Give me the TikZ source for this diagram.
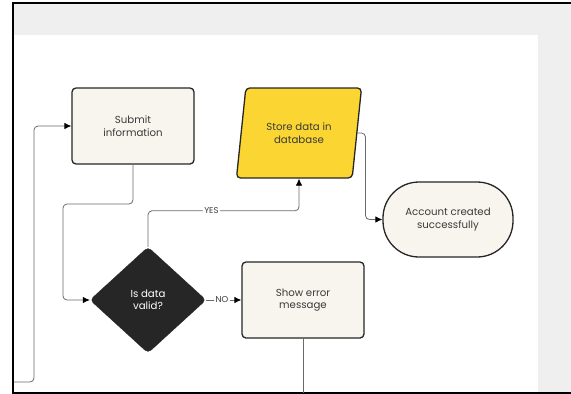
\documentclass[tikz,border=0pt]{standalone}
\usepackage{fontspec}
\setmainfont{Poppins}
\usetikzlibrary{arrows.meta,calc,positioning,shapes.geometric}
\definecolor{pagegray}{HTML}{EFEFEF}
\definecolor{cream}{HTML}{F7F5EE}
\definecolor{ink}{HTML}{262626}
\definecolor{wire}{HTML}{6A6A6A}
\definecolor{sun}{HTML}{FBD531}
\definecolor{txt}{HTML}{3A3A3A}

\begin{document}
\begin{tikzpicture}[
    x=1pt,
    y=-1pt,
    >={Latex[length=7pt,width=6.5pt,color=black]},
    box/.style={draw=ink, line width=1.3pt, rounded corners=4pt, fill=cream, align=center, minimum width=122pt, minimum height=76pt, inner sep=2pt, font=\fontsize{10.2}{12.5}\selectfont, text=txt},
    datab/.style={trapezium, trapezium left angle=76, trapezium right angle=104, trapezium stretches=true, draw=ink, line width=1.3pt, rounded corners=4pt, fill=sun, align=center, minimum width=126pt, minimum height=90pt, inner sep=2pt, font=\fontsize{10.2}{12.5}\selectfont, text=txt},
    decide/.style={diamond, draw=ink, fill=ink, rounded corners=4pt, align=center, minimum width=116pt, minimum height=106pt, inner sep=0pt, font=\fontsize{10.2}{12.5}\selectfont, text=white},
    term/.style={draw=ink, line width=1.3pt, rounded corners=36pt, fill=cream, align=center, minimum width=130pt, minimum height=75pt, inner sep=2pt, font=\fontsize{10.2}{12.5}\selectfont, text=txt},
    tag/.style={fill=white, inner sep=1.5pt, font=\fontsize{8.5}{9}\selectfont, text=txt},
    line/.style={->, draw=wire, line width=0.8pt, rounded corners=4pt},
    wire/.style={draw=wire, line width=0.8pt, rounded corners=4pt}
]
\useasboundingbox (0,0) rectangle (571,394);
% page behind the flow
\fill[pagegray] (13,3) rectangle (571,393);
\fill[white] (14,35) rectangle (538,392);
\draw[line width=1.8pt] (571,3) -- (13,3) -- (13,393) -- (571,393);

\node[box] (submit) at (133,126) {Submit\\information};
\node[datab] (store) at (299,133) {Store data in\\database};
\node[term] (done) at (448,219.5) {Account created\\successfully};
\node[decide] (valid) at (148,300) {Is data\\valid?};
\node[box] (error) at (303,300) {Show error\\message};

\coordinate (loopin) at (14,382);
\coordinate (loopup) at (34,382);
\coordinate (drop) at (63,204);
\coordinate (errout) at (303,393);

\draw[line] (loopin) -- (loopup) |- (submit.west);
\draw[line] (submit.south) |- (drop) |- (valid.west);
\draw[line] (valid.north) -- ++(0,-36) -| node[tag, pos=0.21] {YES} (store.south);
\draw[line] (valid.east) -- node[tag, pos=0.45] {NO} (error.west);
\draw[line] (store.east) -- ++(8,0) |- (done.west);
\draw[wire] (error.south) -- (errout);
\end{tikzpicture}
\end{document}
